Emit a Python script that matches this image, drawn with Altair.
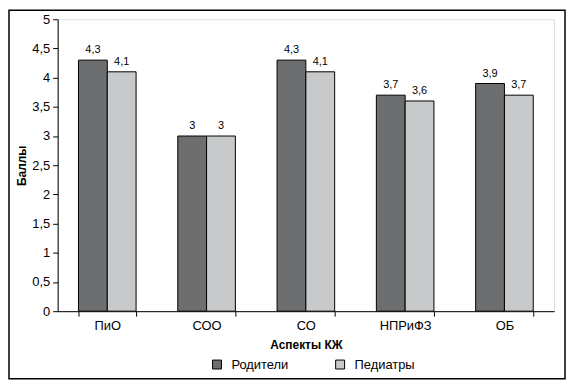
import altair as alt
import pandas as pd

categories = ["ПиО", "СОО", "СО", "НПРиФЗ", "ОБ"]
series = ["Родители", "Педиатры"]
parents = [4.3, 3.0, 4.3, 3.7, 3.9]
pediatricians = [4.1, 3.0, 4.1, 3.6, 3.7]
y_ticks = [0, 0.5, 1, 1.5, 2, 2.5, 3, 3.5, 4, 4.5, 5]

rows = []
for c, a, b in zip(categories, parents, pediatricians):
    rows.append({"cat": c, "series": series[0], "value": a})
    rows.append({"cat": c, "series": series[1], "value": b})
df = pd.DataFrame(rows)

FONT = "Liberation Sans"

xenc = alt.X("cat:N", sort=categories,
             scale=alt.Scale(paddingInner=0.42, paddingOuter=0.21),
             axis=alt.Axis(title="Аспекты КЖ", labelAngle=0, tickBand="extent",
                           labelFontSize=13, titleFontSize=12, titleFontWeight="bold",
                           labelPadding=3, titlePadding=8, tickSize=5,
                           domainColor="black", tickColor="black",
                           labelColor="black", titleColor="black"))
yenc = alt.Y("value:Q", scale=alt.Scale(domain=[0, 5], nice=False),
             axis=alt.Axis(title="Баллы", values=y_ticks, grid=False,
                           labelExpr="replace(format(datum.value, '~g'), '.', ',')",
                           labelOverlap=False, labelFlush=False,
                           labelFontSize=13, titleFontSize=12, titleFontWeight="bold",
                           tickSize=5, labelPadding=3, titlePadding=3,
                           domainColor="black", tickColor="black",
                           labelColor="black", titleColor="black"))

base = alt.Chart(df).encode(
    x=xenc,
    y=yenc,
    xOffset=alt.XOffset("series:N", sort=series,
                        scale=alt.Scale(paddingInner=0, paddingOuter=0)),
)

bars = base.mark_bar(stroke="black", strokeWidth=1).encode(
    color=alt.Color("series:N", sort=series,
                    scale=alt.Scale(domain=series, range=["#6d6e6f", "#c8c9ca"]),
                    legend=alt.Legend(title=None, orient="none", direction="horizontal",
                                      legendX=154, legendY=341, padding=0,
                                      symbolType="square", symbolSize=81,
                                      symbolStrokeColor="black", symbolStrokeWidth=1,
                                      labelFontSize=13, labelOffset=8,
                                      columnPadding=45, labelColor="black")),
)

labels = base.mark_text(baseline="bottom", dy=-5, fontSize=11, font=FONT,
                        color="black").transform_calculate(
    lab="replace(format(datum.value, '~g'), '.', ',')"
).encode(text="lab:N")

frame = alt.Chart(alt.Data(values=[{}])).mark_rect(
    fill=None, stroke="black", strokeWidth=1.5
).encode(x=alt.value(-49), x2=alt.value(511), y=alt.value(-9), y2=alt.value(362))

chart = alt.layer(bars, labels, frame).properties(
    width=500, height=294,
    autosize=alt.AutoSizeParams(type="none"),
    padding={"left": 50, "top": 10, "right": 13, "bottom": 72},
).configure_view(stroke=None).configure(font=FONT)

chart.save("out.html", embed_options={"renderer": "svg", "actions": False})
